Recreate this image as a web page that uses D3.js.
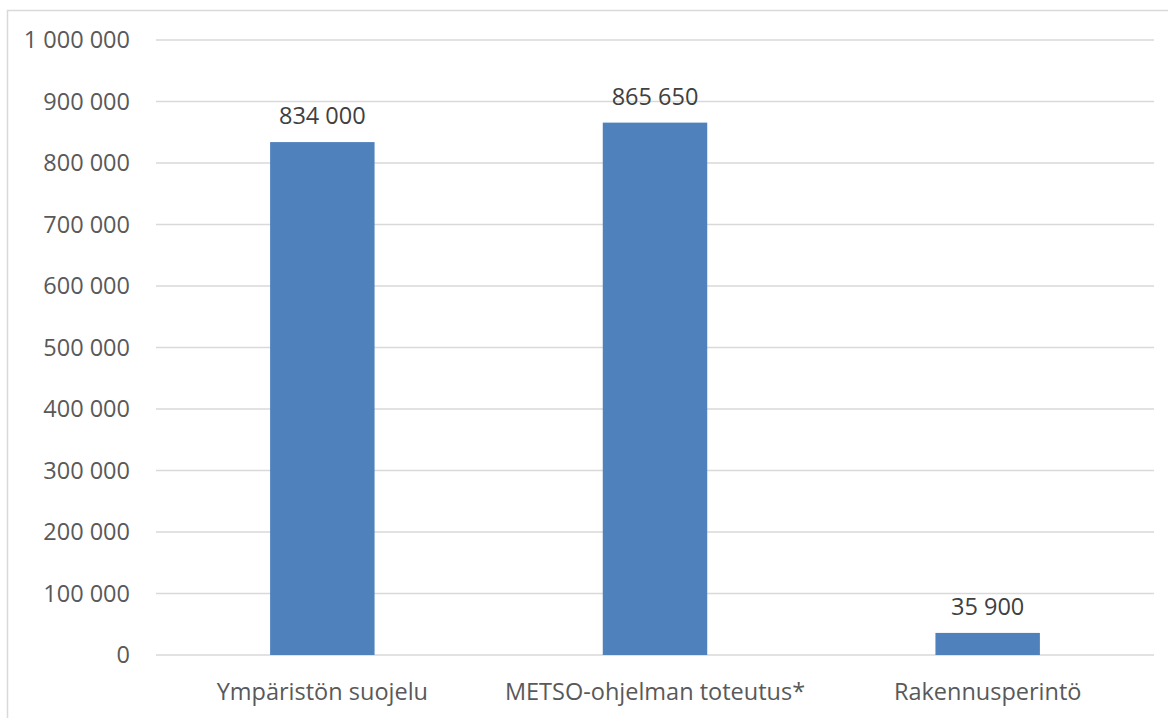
<!DOCTYPE html>
<html lang="fi">
<head>
  <meta charset="UTF-8">
  <title>Määrärahat</title>
  <script src="https://d3js.org/d3.v7.min.js"></script>
  <style>
    body { margin: 0; background: #fff; font-family: 'Open Sans', sans-serif; }
  </style>
</head>
<body>
  <div class="chart"></div>
  <script>
    const categories = ['Ympäristön suojelu', 'METSO-ohjelman toteutus*', 'Rakennusperintö'];
    const values = [834000, 865650, 35900];
    const yTicks = [0, 100000, 200000, 300000, 400000, 500000, 600000, 700000, 800000, 900000, 1000000];

    const W = 1168, H = 718;
    const margin = { top: 40, right: 14, bottom: 63, left: 156 };
    const width = W - margin.left - margin.right;
    const height = H - margin.top - margin.bottom;
    const fontSize = 23.5;

    const fmt = v => d3.format(',')(v).replace(/,/g, ' ');

    const root = d3.select('.chart').append('svg').attr('width', W).attr('height', H);

    // chart frame (right and bottom edges fall outside the picture)
    root.append('rect').attr('x', 7.5).attr('y', 10.5).attr('width', W).attr('height', H)
      .attr('fill', 'none').attr('stroke', '#d9d9d9').attr('stroke-width', 1.5);

    const svg = root.append('g').attr('transform', `translate(${margin.left}, ${margin.top})`);

    const x = d3.scaleBand().domain(categories).range([0, width]).paddingInner(0.686).paddingOuter(0.343);
    const y = d3.scaleLinear().domain([0, 1000000]).range([height, 0]);

    svg.append('g').selectAll('line').data(yTicks).join('line')
      .attr('x1', 0).attr('x2', width)
      .attr('y1', d => y(d)).attr('y2', d => y(d))
      .attr('stroke', '#d9d9d9').attr('stroke-width', 1.5);

    const yAxis = svg.append('g').call(d3.axisLeft(y).tickValues(yTicks).tickFormat(fmt).tickSize(0).tickPadding(26));
    yAxis.select('.domain').remove();
    yAxis.selectAll('text').attr('font-family', 'Open Sans, sans-serif').attr('font-size', fontSize).attr('fill', '#595959');

    const xAxis = svg.append('g').attr('transform', `translate(0, ${height})`)
      .call(d3.axisBottom(x).tickSize(0).tickPadding(28));
    xAxis.select('.domain').remove();
    xAxis.selectAll('text').attr('font-family', 'Open Sans, sans-serif').attr('font-size', fontSize).attr('fill', '#595959');

    svg.selectAll('.bar').data(values).join('rect').attr('class', 'bar')
      .attr('x', (d, i) => x(categories[i])).attr('width', x.bandwidth())
      .attr('y', d => y(d)).attr('height', d => height - y(d))
      .attr('fill', '#4f81bd');

    svg.selectAll('.lbl').data(values).join('text').attr('class', 'lbl')
      .attr('x', (d, i) => x(categories[i]) + x.bandwidth() / 2)
      .attr('y', d => y(d) - 18)
      .attr('text-anchor', 'middle')
      .attr('font-family', 'Open Sans, sans-serif').attr('font-size', fontSize).attr('fill', '#404040')
      .text(fmt);
  </script>
</body>
</html>
